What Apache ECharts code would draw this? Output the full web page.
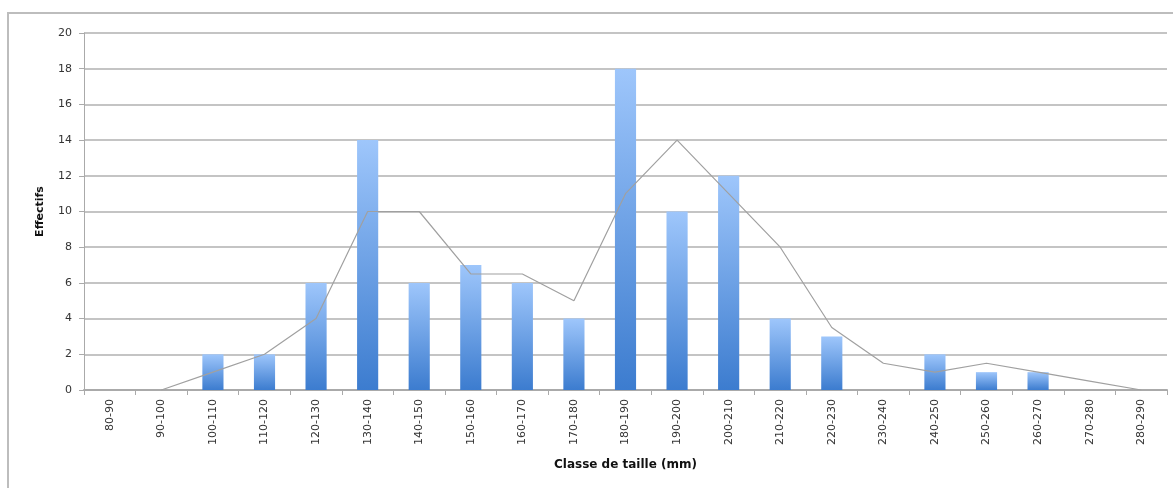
<!DOCTYPE html>
<html>
<head>
<meta charset="utf-8">
<script src="https://cdn.jsdelivr.net/npm/echarts@6/dist/echarts.min.js"></script>
<style>
  html, body { margin: 0; padding: 0; background: #fff; }
  #chart { width: 1173px; height: 488px; }
</style>
</head>
<body>
<div id="chart"></div>
<script>
// classes de taille (mm)
const classes = ['80-90', '90-100', '100-110', '110-120', '120-130', '130-140', '140-150',
  '150-160', '160-170', '170-180', '180-190', '190-200', '200-210', '210-220', '220-230',
  '230-240', '240-250', '250-260', '260-270', '270-280', '280-290'];
// effectifs par classe
const effectifs = [0, 0, 2, 2, 6, 14, 6, 7, 6, 4, 18, 10, 12, 4, 3, 0, 2, 1, 1, 0, 0];
// courbe de tendance (moyenne mobile)
const tendance = ['-', 0, 1, 2, 4, 10, 10, 6.5, 6.5, 5, 11, 14, 11, 8, 3.5, 1.5, 1, 1.5, 1, 0.5, 0];

const font = 'DejaVu Sans, sans-serif';

const chart = echarts.init(document.getElementById('chart'));
const option = {
  animation: false,
  backgroundColor: '#fff',
  graphic: [{
    type: 'rect',
    shape: { x: 8, y: 13, width: 1300, height: 600 },
    style: { fill: 'none', stroke: '#bdbdbd', lineWidth: 2 },
    silent: true
  }],
  grid: { left: 84, right: 6, top: 33, bottom: 98 },
  xAxis: {
    type: 'category',
    data: classes,
    name: 'Classe de taille (mm)',
    nameLocation: 'middle',
    nameGap: 69,
    nameTextStyle: { fontFamily: font, fontSize: 12, fontWeight: 'bold', color: '#111' },
    axisLine: { lineStyle: { color: '#aaa', width: 2 } },
    axisTick: { show: true, length: 5, lineStyle: { color: '#aaa', width: 1 } },
    axisLabel: { rotate: 90, fontFamily: font, fontSize: 11, color: '#333', margin: 9 }
  },
  yAxis: {
    type: 'value',
    min: 0,
    max: 20,
    interval: 2,
    name: 'Effectifs',
    nameLocation: 'middle',
    nameRotate: 90,
    nameGap: 38,
    nameTextStyle: { fontFamily: font, fontSize: 11, fontWeight: 'bold', color: '#111' },
    axisLine: { show: true, lineStyle: { color: '#aaa', width: 1 } },
    axisTick: { show: true, length: 5, lineStyle: { color: '#aaa' } },
    axisLabel: { fontFamily: font, fontSize: 11, color: '#333', margin: 12 },
    splitLine: { lineStyle: { color: '#c4c4c4', width: 2 } }
  },
  series: [{
    name: 'Effectifs',
    type: 'bar',
    data: effectifs,
    barWidth: '41%',
    itemStyle: {
      color: new echarts.graphic.LinearGradient(0, 0, 0, 1, [
        { offset: 0, color: '#9ec6fb' },
        { offset: 1, color: '#3c7ccf' }
      ])
    }
  }, {
    name: 'Tendance',
    type: 'line',
    data: tendance,
    symbol: 'none',
    lineStyle: { color: '#a0a0a0', width: 1.2 },
    z: 3
  }]
};
chart.setOption(option);
</script>
</body>
</html>
